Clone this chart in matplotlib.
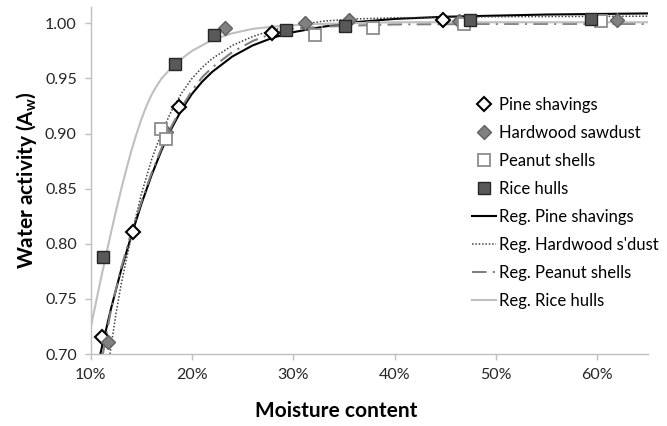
import matplotlib
matplotlib.use("Agg")
import matplotlib.pyplot as plt
from matplotlib.ticker import FuncFormatter

plt.rcParams['font.family'] = ['Lato', 'DejaVu Sans']
plt.rcParams['mathtext.fontset'] = 'custom'
plt.rcParams['mathtext.rm'] = 'Lato'
plt.rcParams['mathtext.bf'] = 'Lato:bold'

# measured points (moisture content %, water activity)
pine_mc = [11.1, 14.2, 18.7, 27.9, 44.8]
pine_aw = [0.715, 0.811, 0.924, 0.991, 1.003]

hard_mc = [11.7, 17.45, 23.3, 31.2, 35.5, 46.4, 62.0]
hard_aw = [0.711, 0.901, 0.996, 1.000, 1.003, 1.002, 1.003]

peanut_mc = [16.95, 17.4, 32.1, 37.9, 46.9, 60.4]
peanut_aw = [0.904, 0.895, 0.989, 0.996, 0.999, 1.002]

rice_mc = [11.2, 18.3, 22.2, 29.3, 35.1, 47.5, 59.4]
rice_aw = [0.788, 0.963, 0.989, 0.994, 0.998, 1.003, 1.004]

# regression curves
reg_pine_mc = [10.95, 11.0, 12.0, 13.0, 14.0, 15.0, 16.0, 17.0, 18.0, 19.0, 20.0, 21.0, 22.0,
               24.0, 26.0, 28.0, 30.0, 33.0, 36.0, 40.0, 45.0, 50.0, 55.0, 60.0, 65.0]
reg_pine_aw = [0.700, 0.702, 0.741, 0.776, 0.807, 0.836, 0.862, 0.885, 0.905, 0.922, 0.936, 0.947, 0.956,
               0.970, 0.980, 0.987, 0.992, 0.997, 1.001, 1.004, 1.006, 1.007, 1.008, 1.0085, 1.009]

reg_hard_mc = [11.9, 12.5, 13.0, 13.5, 14.0, 14.5, 15.0, 16.0, 17.0, 18.0, 19.0, 20.0, 21.0, 22.0,
               24.0, 26.0, 28.0, 30.0, 33.0, 36.0, 40.0, 50.0, 65.0]
reg_hard_aw = [0.700, 0.737, 0.763, 0.785, 0.806, 0.826, 0.845, 0.876, 0.901, 0.921, 0.937, 0.950, 0.960, 0.968,
               0.980, 0.988, 0.994, 0.998, 1.002, 1.004, 1.005, 1.006, 1.0065]

reg_peanut_mc = [11.2, 12.0, 13.0, 14.0, 15.0, 16.0, 17.0, 18.0, 19.0, 20.0, 21.0, 22.0,
                 24.0, 26.0, 28.0, 30.0, 33.0, 36.0, 40.0, 50.0, 65.0]
reg_peanut_aw = [0.700, 0.740, 0.778, 0.810, 0.838, 0.864, 0.887, 0.907, 0.924, 0.939, 0.951, 0.960,
                 0.974, 0.984, 0.991, 0.995, 0.997, 0.998, 0.999, 0.9995, 0.9995]

reg_rice_mc = [10.0, 10.5, 11.0, 11.5, 12.0, 12.5, 13.0, 13.5, 14.0, 14.5, 15.0, 15.5, 16.0, 16.5,
               17.0, 17.5, 18.0, 19.0, 20.0, 22.0, 24.0, 26.0, 28.0, 31.0, 35.0, 40.0, 65.0]
reg_rice_aw = [0.724, 0.746, 0.768, 0.789, 0.810, 0.830, 0.849, 0.867, 0.884, 0.899, 0.913, 0.925, 0.935, 0.943,
               0.950, 0.955, 0.960, 0.968, 0.975, 0.985, 0.991, 0.995, 0.997, 0.999, 1.000, 1.001, 1.001]

x_ticks = [10, 20, 30, 40, 50, 60]
y_ticks = [0.70, 0.75, 0.80, 0.85, 0.90, 0.95, 1.00]

fig = plt.figure(figsize=(6.67, 4.26), dpi=100)
ax = fig.add_axes([0.136, 0.169, 0.835, 0.815])

ax.plot(pine_mc, pine_aw, 'D', ms=7, mfc='white', mec='black', mew=1.5, ls='none', label='Pine shavings', zorder=5)
ax.plot(hard_mc, hard_aw, 'D', ms=7.5, mfc='#808080', mec='#606060', mew=1, ls='none', label='Hardwood sawdust', zorder=5)
ax.plot(peanut_mc, peanut_aw, 's', ms=8, mfc='white', mec='#8c8c8c', mew=1.3, ls='none', label='Peanut shells', zorder=5)
ax.plot(rice_mc, rice_aw, 's', ms=8, mfc='#595959', mec='#262626', mew=1, ls='none', label='Rice hulls', zorder=5)

ax.plot(reg_pine_mc, reg_pine_aw, color='black', lw=1.5, label='Reg. Pine shavings')
ax.plot(reg_hard_mc, reg_hard_aw, color='#404040', lw=1.1, ls=(0, (1, 1.2)), label="Reg. Hardwood s'dust")
ax.plot(reg_peanut_mc, reg_peanut_aw, color='#808080', lw=1.5, ls=(0, (7, 3, 1, 3)), label='Reg. Peanut shells')
ax.plot(reg_rice_mc, reg_rice_aw, color='#bfbfbf', lw=1.5, label='Reg. Rice hulls')

ax.set_xlim(10, 65)
ax.set_ylim(0.70, 1.015)
ax.set_xticks(x_ticks)
ax.set_yticks(y_ticks)
ax.xaxis.set_major_formatter(FuncFormatter(lambda v, p: '%d%%' % v))
ax.yaxis.set_major_formatter(FuncFormatter(lambda v, p: '%.2f' % v))

for s in ['top', 'right']:
    ax.spines[s].set_visible(False)
for s in ['left', 'bottom']:
    ax.spines[s].set_color('#bfbfbf')
    ax.spines[s].set_linewidth(1)
ax.tick_params(axis='both', colors='#bfbfbf', labelcolor='#262626', labelsize=11.5, length=4, width=1)
ax.tick_params(axis='x', pad=6)
ax.tick_params(axis='y', pad=6)

ax.set_xlabel('Moisture content', fontsize=15, fontweight='bold')
ax.set_ylabel(r'Water activity (A$_{\mathbf{w}}$)', fontsize=15, fontweight='bold')
ax.xaxis.set_label_coords(0.44, -0.135)
ax.yaxis.set_label_coords(-0.092, 0.5)

ax.legend(loc='upper left', bbox_to_anchor=(0.685, 0.8085), bbox_transform=fig.transFigure,
          frameon=False, fontsize=12, handlelength=1.45, handletextpad=0.2, labelspacing=0.72)

fig.savefig('out.png', dpi=100)
